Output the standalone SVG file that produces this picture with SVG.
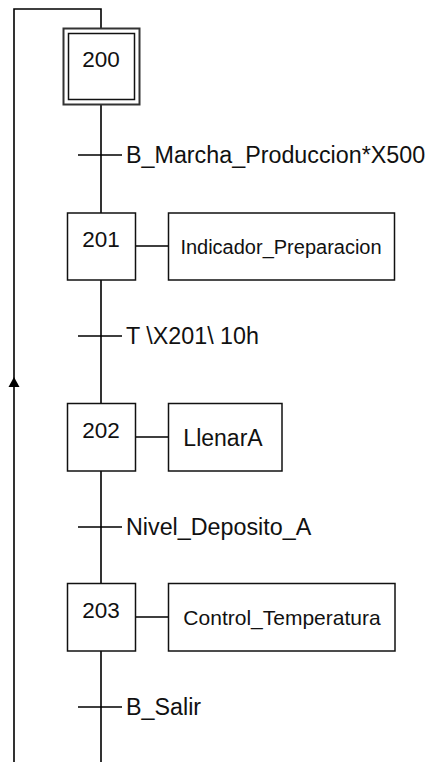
<svg xmlns="http://www.w3.org/2000/svg" width="431" height="762" viewBox="0 0 431 762">
<style>
.ln{stroke:#000;stroke-width:1.6;fill:none}
.bx{stroke:#111;stroke-width:1.5;fill:#fff}
.t{font-family:"Liberation Sans",Arial,sans-serif;fill:#111}
.num{font-size:22.5px;text-anchor:middle}
.tr{font-size:23.3px}
.act{text-anchor:middle}
</style>
<g id="connectors">
<path class="ln" d="M14,762 V9 H101 V28"/>
<path d="M14,387 L8.5,387 L14,377 L19.5,387 Z" fill="#000"/>
<path class="ln" d="M101,104 V213 M101,280 V403 M101,471 V583 M101,651 V762"/>
<path class="ln" d="M78,155 H122 M78,336 H122 M78,527 H122 M78,707 H122"/>
<path class="ln" d="M135,246 H168 M135,437 H168 M135,617 H168"/>
</g>
<g id="step200">
<rect x="63.5" y="28.5" width="76" height="76" fill="#fff" stroke="#333" stroke-width="2"/>
<rect x="68.5" y="33.5" width="66" height="66" class="bx"/>
<text x="101" y="67" class="t num">200</text>
</g>
<g id="t1"><text x="126" y="163" class="t tr">B_Marcha_Produccion*X500</text></g>
<g id="step201">
<rect x="67.5" y="213" width="68" height="67" class="bx"/>
<text x="101" y="247" class="t num">201</text>
</g>
<g id="action201">
<rect x="168.5" y="213" width="226" height="67" class="bx"/>
<text x="281" y="254" class="t act" font-size="20">Indicador_Preparacion</text>
</g>
<g id="t2"><text x="126" y="344" class="t tr">T \X201\ 10h</text></g>
<g id="step202">
<rect x="67.5" y="403.5" width="68" height="67.5" class="bx"/>
<text x="101" y="438" class="t num">202</text>
</g>
<g id="action202">
<rect x="168.5" y="403.5" width="113.5" height="67.5" class="bx"/>
<text x="223" y="446" class="t act" font-size="23">LlenarA</text>
</g>
<g id="t3"><text x="126" y="535" class="t tr">Nivel_Deposito_A</text></g>
<g id="step203">
<rect x="67.5" y="583.5" width="68" height="67.5" class="bx"/>
<text x="101" y="618" class="t num">203</text>
</g>
<g id="action203">
<rect x="168.5" y="583.5" width="226.5" height="67.5" class="bx"/>
<text x="282" y="625" class="t act" font-size="21">Control_Temperatura</text>
</g>
<g id="t4"><text x="126" y="715" class="t tr">B_Salir</text></g>
</svg>
